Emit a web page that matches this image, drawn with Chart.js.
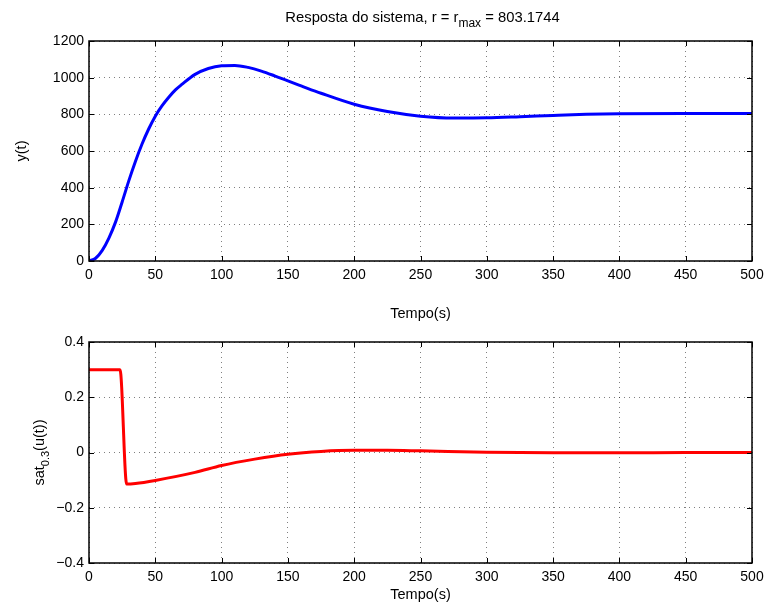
<!DOCTYPE html>
<html lang="pt">
<head>
  <meta charset="UTF-8">
  <title>Resposta do sistema</title>
  <script src="https://cdn.jsdelivr.net/npm/chart.js"></script>
  <style>
    body { margin: 0; background: #fff; }
    #wrap { position: relative; width: 768px; height: 604px; }
    .box { position: absolute; left: 0; width: 768px; }
    #topBox { top: 0; height: 330px; }
    #botBox { top: 300px; height: 304px; }
  </style>
</head>
<body>
  <div id="wrap">
    <div class="box" id="topBox"><canvas id="topChart"></canvas></div>
    <div class="box" id="botBox"><canvas id="botChart"></canvas></div>
  </div>

  <script>
    // y(t)
    const tY = [0, 5, 10, 15, 20, 25, 30, 35, 40, 45, 50, 55, 60, 65, 70, 80, 90, 100, 110, 120, 130, 140, 150, 160, 175, 200, 225, 250, 275, 300, 325, 350, 375, 400, 450, 500];
    const yVals = [0, 15, 58, 125, 212, 322, 437, 543, 638, 720, 790, 846, 892, 932, 963, 1018, 1050, 1065, 1067, 1056, 1036, 1010, 982, 955, 915, 855, 815, 790, 780, 781, 787, 794, 800, 803, 805, 804];

    // sat_0.3(u(t))
    const tU = [0, 23.4, 28.4, 35, 50, 80, 100, 125, 150, 175, 200, 225, 250, 300, 350, 400, 450, 500];
    const uVals = [0.3, 0.3, -0.114, -0.112, -0.101, -0.072, -0.047, -0.024, -0.006, 0.004, 0.008, 0.008, 0.006, 0.001, -0.001, -0.001, 0, 0];

    const xTicks = [0, 50, 100, 150, 200, 250, 300, 350, 400, 450, 500];
    const yTicksTop = [0, 200, 400, 600, 800, 1000, 1200];
    const yTicksBot = [-0.4, -0.2, 0, 0.2, 0.4];

    const FONT = "'Liberation Sans', Arial, Helvetica, sans-serif";
    Chart.defaults.font.family = FONT;
    Chart.defaults.font.size = 14;
    Chart.defaults.color = '#000';

    // box + inward tick marks like matlab
    const frame = {
      id: 'frame',
      afterDraw(chart) {
        const {ctx, chartArea: a, scales: {x, y}} = chart;
        ctx.save();
        ctx.strokeStyle = '#000';
        ctx.lineWidth = 1;
        ctx.beginPath();
        x.ticks.forEach(t => {
          const px = Math.round(x.getPixelForValue(t.value)) + 0.5;
          ctx.moveTo(px, a.bottom); ctx.lineTo(px, a.bottom - 5);
          ctx.moveTo(px, a.top); ctx.lineTo(px, a.top + 5);
        });
        y.ticks.forEach(t => {
          const py = Math.round(y.getPixelForValue(t.value)) + 0.5;
          ctx.moveTo(a.left, py); ctx.lineTo(a.left + 5, py);
          ctx.moveTo(a.right, py); ctx.lineTo(a.right - 5, py);
        });
        ctx.stroke();
        ctx.lineWidth = 1.5;
        ctx.strokeRect(a.left, a.top, a.right - a.left, a.bottom - a.top);
        ctx.restore();
      }
    };

    // text with a subscript part
    function subText(ctx, parts, cx, cy, rotate, size) {
      ctx.save();
      ctx.translate(cx, cy);
      if (rotate) ctx.rotate(-Math.PI / 2);
      ctx.fillStyle = '#000';
      ctx.textBaseline = 'alphabetic';
      const big = size + 'px ' + FONT, small = Math.round(size * 0.78) + 'px ' + FONT;
      let w = 0;
      parts.forEach(p => { ctx.font = p.sub ? small : big; w += ctx.measureText(p.t).width; });
      let x0 = -w / 2;
      parts.forEach(p => {
        ctx.font = p.sub ? small : big;
        ctx.fillText(p.t, x0, p.sub ? 10 : 5);
        x0 += ctx.measureText(p.t).width;
      });
      ctx.restore();
    }

    const titleTop = {
      id: 'titleTop',
      afterDraw(chart) {
        const a = chart.chartArea;
        subText(chart.ctx, [{t: 'Resposta do sistema, r = r'}, {t: 'max', sub: true}, {t: ' = 803.1744'}], (a.left + a.right) / 2 + 2, 17, false, 14.8);
      }
    };

    const ylabelBot = {
      id: 'ylabelBot',
      afterDraw(chart) {
        const a = chart.chartArea;
        subText(chart.ctx, [{t: 'sat'}, {t: '0.3', sub: true}, {t: '(u(t))'}], 39, (a.top + a.bottom) / 2, true, 14.5);
      }
    };

    function xScale(titlePadBottom, height) {
      return {
        type: 'linear', min: 0, max: 500,
        afterBuildTicks: s => { s.ticks = xTicks.map(v => ({value: v})); },
        afterFit: s => { s.height = height; s.paddingLeft = 0; s.paddingRight = 0; },
        ticks: { padding: 6, maxRotation: 0, autoSkip: false },
        grid: { color: 'rgba(0,0,0,0.5)', lineWidth: 1, drawTicks: false },
        border: { display: false, dash: [1, 4] },
        title: { display: true, text: 'Tempo(s)', padding: {top: 0, bottom: titlePadBottom}, font: {size: 14.5} }
      };
    }

    function yScale(ticksArr, min, max, withTitle) {
      return {
        type: 'linear', min: min, max: max,
        afterBuildTicks: s => { s.ticks = ticksArr.map(v => ({value: v})); },
        afterFit: s => { s.width = 89; },
        ticks: {
          padding: 5,
          callback: v => String(Math.round(v * 10) / 10).replace('-', '\u2212')
        },
        grid: { color: 'rgba(0,0,0,0.5)', lineWidth: 1, drawTicks: false },
        border: { display: false, dash: [1, 4] },
        title: { display: withTitle, text: 'y(t)', padding: {top: 13, bottom: 0}, font: {size: 14.5} }
      };
    }

    const common = {
      responsive: false,
      animation: false,
      maintainAspectRatio: false,
      plugins: { legend: { display: false }, tooltip: { enabled: false } },
      elements: { point: { radius: 0 } }
    };

    const topCanvas = document.getElementById('topChart');
    topCanvas.width = 768; topCanvas.height = 330;
    new Chart(topCanvas, {
      type: 'line',
      data: {
        datasets: [{
          data: tY.map((t, i) => ({x: t, y: yVals[i]})),
          borderColor: '#0000ff',
          borderWidth: 3,
          cubicInterpolationMode: 'monotone',
          fill: false
        }]
      },
      options: Object.assign({}, common, {
        layout: { padding: { top: 41, right: 16, left: 0, bottom: 0 } },
        scales: { x: xScale(7, 69), y: yScale(yTicksTop, 0, 1200, true) }
      }),
      plugins: [frame, titleTop]
    });

    const botCanvas = document.getElementById('botChart');
    botCanvas.width = 768; botCanvas.height = 304;
    new Chart(botCanvas, {
      type: 'line',
      data: {
        datasets: [{
          data: tU.map((t, i) => ({x: t, y: uVals[i]})),
          borderColor: '#ff0000',
          borderWidth: 3,
          cubicInterpolationMode: 'monotone',
          fill: false
        }]
      },
      options: Object.assign({}, common, {
        layout: { padding: { top: 42, right: 16, left: 0, bottom: 0 } },
        scales: { x: xScale(0, 41), y: yScale(yTicksBot, -0.4, 0.4, false) }
      }),
      plugins: [frame, ylabelBot]
    });
  </script>
</body>
</html>
